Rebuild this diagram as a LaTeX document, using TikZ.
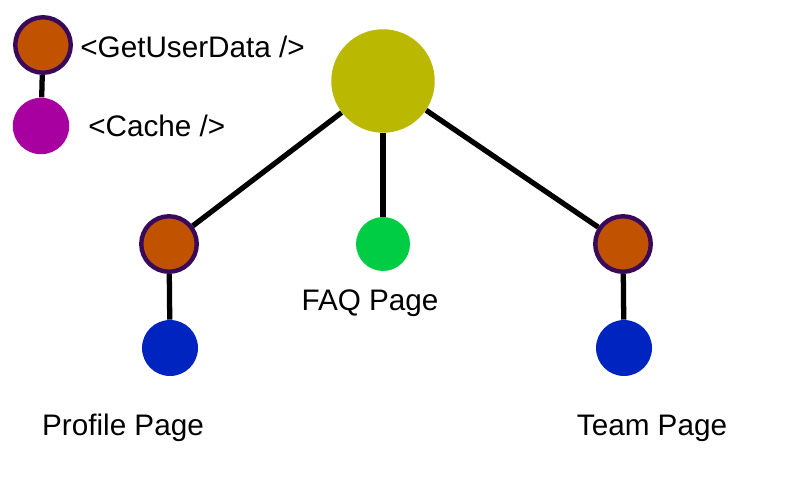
\documentclass[tikz,border=0pt]{standalone}
\usepackage{fontspec}
\setmainfont{Liberation Sans}
\usetikzlibrary{positioning}
\definecolor{rustorange}{RGB}{192,82,0}
\definecolor{darkplum}{RGB}{58,10,90}
\definecolor{cachepink}{RGB}{168,0,160}
\definecolor{rootolive}{RGB}{186,184,0}
\definecolor{faqgreen}{RGB}{0,204,68}
\definecolor{pageblue}{RGB}{0,36,192}
\tikzstyle{fetcher}=[circle, draw=darkplum, line width=2.5pt, fill=rustorange, minimum size=1.11cm, inner sep=0pt]
\tikzstyle{cache}=[circle, fill=cachepink, minimum size=1.13cm, inner sep=0pt]
\tikzstyle{page}=[circle, fill=pageblue, minimum size=1.12cm, inner sep=0pt]
\tikzstyle{label}=[font=\fontsize{16.9}{20}\selectfont, inner sep=0pt]
\tikzstyle{link}=[line width=3pt, black]

\begin{document}
\begin{tikzpicture}[x=0.02cm,y=-0.02cm]
  \useasboundingbox (0,0) rectangle (800,500);
  % legend
  \node[fetcher] (keyfetch) at (43,45) {};
  \node[cache] (keycache) at (41,126) {};
  \node[label, anchor=west] (keyfetchtxt) at (80,47) {<GetUserData />};
  \node[label, anchor=west] (keycachetxt) at (88,126) {<Cache />};

  % tree
  \node[circle, fill=rootolive, minimum size=2.07cm, inner sep=0pt] (root) at (383,81) {};
  \node[fetcher] (profilefetch) at (169,244) {};
  \node[circle, fill=faqgreen, minimum size=1.08cm, inner sep=0pt] (faq) at (383,244) {};
  \node[fetcher] (teamfetch) at (623,244) {};
  \node[page] (profile) at (170,348) {};
  \node[page] (team) at (624,348) {};

  \node[label] (faqtxt) at (370,303) {FAQ Page};
  \node[label] (profiletxt) at (123,428) {Profile Page};
  \node[label] (teamtxt) at (652,428) {Team Page};

  \draw[link] (keyfetch) -- (keycache);
  \draw[link] (root) -- (profilefetch);
  \draw[link] (root) -- (faq);
  \draw[link] (root) -- (teamfetch);
  \draw[link] (profilefetch) -- (profile);
  \draw[link] (teamfetch) -- (team);
\end{tikzpicture}
\end{document}
